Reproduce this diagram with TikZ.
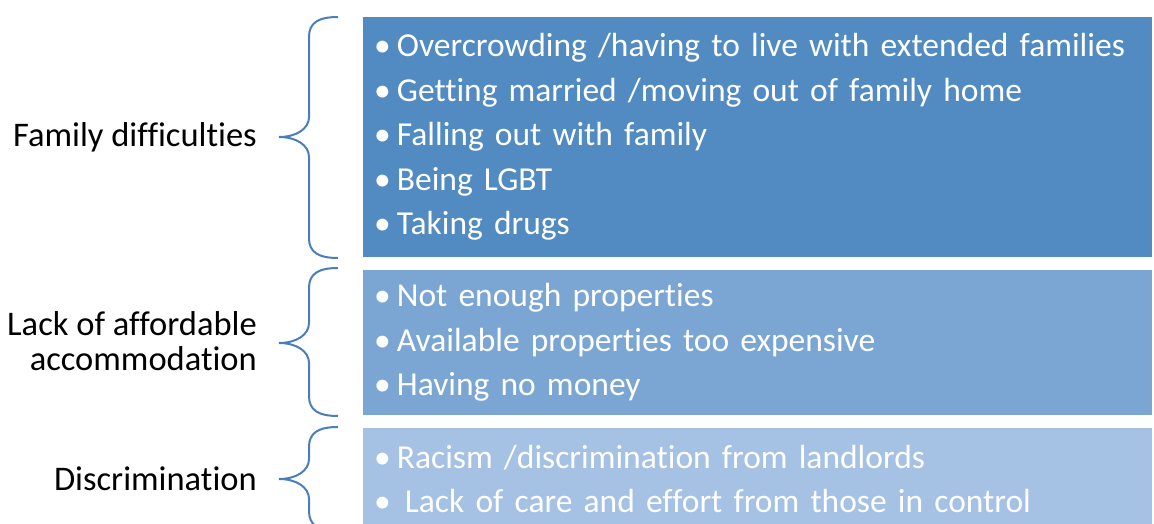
\documentclass[tikz,border=0pt]{standalone}
\usepackage{fontspec}
\setmainfont{Carlito}[Ligatures=CommonOff]
\usepackage{xcolor}
\usetikzlibrary{positioning}
\definecolor{braceblue}{HTML}{4A7EBB}
\definecolor{famfill}{HTML}{518BC1}
\definecolor{lackfill}{HTML}{7BA6D3}
\definecolor{discfill}{HTML}{A5C1E4}
\tikzset{
  catlabel/.style={anchor=east, align=right, text=black, inner sep=0pt,
    font=\fontsize{34.5}{35}\selectfont},
  itembox/.style={anchor=north west, rectangle, text=white, align=left,
    text width=767pt, inner xsep=11pt, inner ysep=0pt,
    font=\fontsize{33.5}{44.5}\selectfont},
  brace/.style={draw=braceblue, line width=2pt}
}
% bullet with a tight gap after it
\newcommand\Itm[1][6pt]{•\hspace{#1}}
% one curly brace: top end, tip and bottom end
\newcommand\CurlyBrace[3]{%
  \draw[brace] (338,#1) .. controls (318,#1) and (309,#1+6) .. (309,#1+20)
    -- (309,#2-20) .. controls (309,#2-8) and (296,#2) .. (279,#2)
    .. controls (296,#2) and (309,#2+8) .. (309,#2+20)
    -- (309,#3-20) .. controls (309,#3-6) and (318,#3) .. (338,#3);}
\begin{document}
\begin{tikzpicture}[x=1pt, y=-1pt]
\useasboundingbox (0,0) rectangle (1154,524);
\newcommand\XBox{363}

\node[itembox, fill=famfill, minimum height=240pt] (Fam) at (\XBox,17)
  {\Itm Overcrowding /having to live with extended families\\
   \Itm Getting married /moving out of family home\\
   \Itm Falling out with family\\
   \Itm Being LGBT\\
   \Itm Taking drugs};
\node[itembox, fill=lackfill, minimum height=145pt] (Lack) at (\XBox,270)
  {\Itm Not enough properties\\
   \Itm Available properties too expensive\\
   \Itm Having no money};
\node[itembox, fill=discfill, minimum height=102pt] (Disc) at (\XBox,428)
  {\Itm Racism /discrimination from landlords\\
   \Itm[14pt]Lack of care and effort from those in control};

\node[catlabel] (FamLabel) at (257,137) {Family difficulties};
\node[catlabel] (LackLabel) at (257,341) {Lack of affordable\\accommodation};
\node[catlabel] (DiscLabel) at (257,479) {Discrimination};

\CurlyBrace{17}{137}{258}
\CurlyBrace{268}{343}{416}
\CurlyBrace{427}{479}{531}
\end{tikzpicture}
\end{document}
